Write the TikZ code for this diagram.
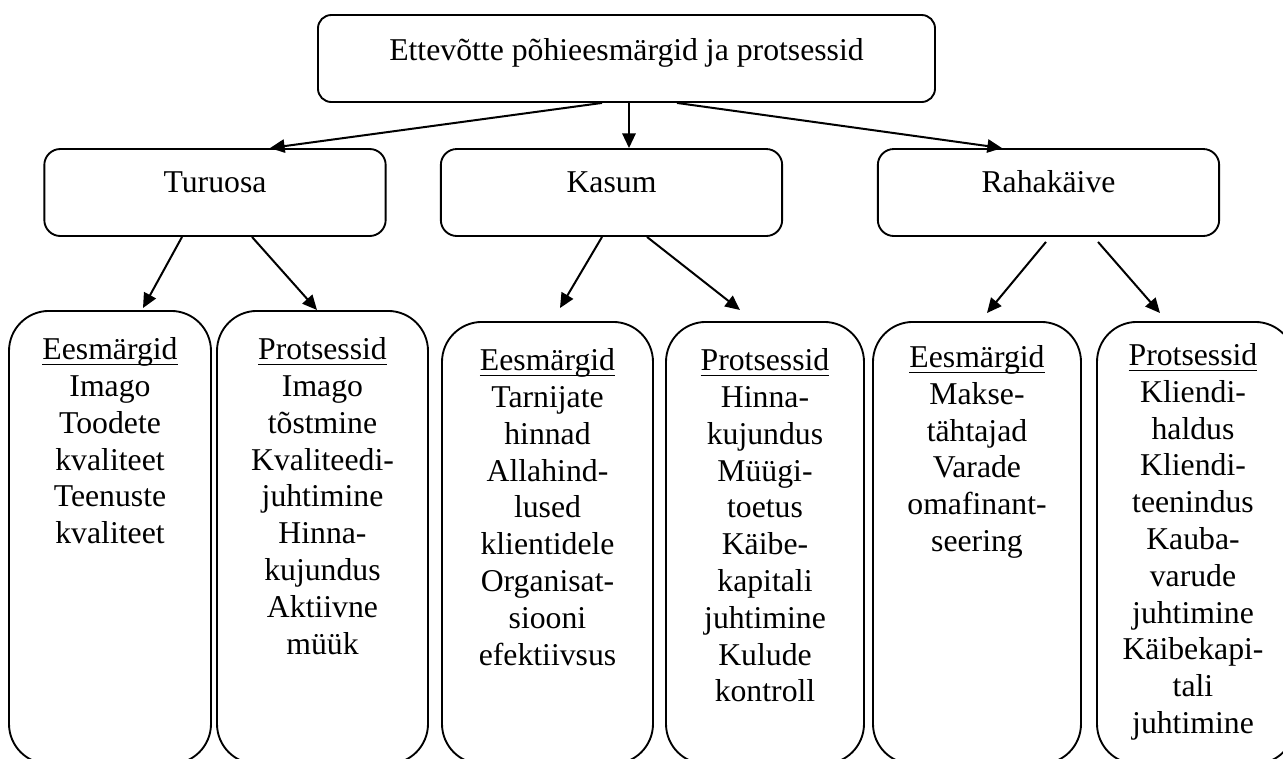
\documentclass[tikz,border=0pt]{standalone}
\usepackage{fontspec}
\setmainfont{Liberation Serif}
\usetikzlibrary{arrows.meta,positioning,calc}
\newcommand\undl[1]{\setbox0\hbox{#1}\rlap{\rule[-4.3pt]{\wd0}{1pt}}\box0}
\tikzset{
  headbox/.style={rectangle,draw,line width=1.4pt,inner xsep=0pt,inner ysep=0pt,font=\fontsize{23.8}{27.6}\selectfont},
  goalbox/.style={headbox,minimum width=462.75pt,text height=33.75pt,text depth=31.5pt,rounded corners=10pt},
  areabox/.style={headbox,minimum width=256pt,text height=32.25pt,text depth=33pt,rounded corners=12pt},
  listbox/.style={rectangle,draw,line width=1.4pt,rounded corners=30pt,anchor=north,inner sep=0pt},
  listtxt/.style={anchor=north,align=center,inner sep=0pt,font=\fontsize{23.8}{27.6}\selectfont},
  link/.style={draw,line width=1.5pt,-{Triangle[length=11pt,width=10pt]}},
}
\begin{document}
\begin{tikzpicture}[x=0.75pt,y=-0.75pt]
\useasboundingbox (0,0) rectangle (1283,758);
\clip (0,0) rectangle (1283,758);

% top
\node[goalbox] (goals) at (626.5,58.5) {Ettevõtte põhieesmärgid ja protsessid};

% middle row
\node[areabox] (turuosa) at (215,192.5) {Turuosa};
\node[areabox] (kasum) at (611.5,192.5) {Kasum};
\node[areabox] (rahakaive) at (1048.5,192.5) {Rahakäive};

\draw[link] ($(goals.south)+(-24.5,0)$) -- ($(turuosa.north)+(55,0)$);
\draw[link] ($(goals.south)+(2.5,0)$) -- ($(kasum.north)+(17.5,0)$);
\draw[link] ($(goals.south)+(50.5,0)$) -- ($(rahakaive.north)+(-46.5,0)$);

% bottom row
\node[listbox,minimum width=151.5pt,minimum height=339.75pt] (tureesm) at (110,310) {};
\node[listbox,minimum width=158.25pt,minimum height=339.75pt] (turprots) at (322.5,310) {};
\node[listbox,minimum width=158.25pt,minimum height=331.5pt] (kaseesm) at (547.5,321) {};
\node[listbox,minimum width=148.5pt,minimum height=331.5pt] (kasprots) at (765,321) {};
\node[listbox,minimum width=156pt,minimum height=331.5pt] (raheesm) at (977,321) {};
\node[listbox,minimum width=148.5pt,minimum height=331.5pt] (rahprots) at (1196,321) {};

\node[listtxt,below=20.5pt of tureesm.north] (tureesmtxt) {\undl{Eesmärgid}\\Imago\\Toodete\\kvaliteet\\Teenuste\\kvaliteet};
\node[listtxt,below=20.5pt of turprots.north] (turprotstxt) {\undl{Protsessid}\\Imago\\tõstmine\\Kvaliteedi-\\juhtimine\\Hinna-\\kujundus\\Aktiivne\\müük};
\node[listtxt,below=20.5pt of kaseesm.north] (kaseesmtxt) {\undl{Eesmärgid}\\Tarnijate\\hinnad\\Allahind-\\lused\\klientidele\\Organisat-\\siooni\\efektiivsus};
\node[listtxt,below=20.5pt of kasprots.north] (kasprotstxt) {\undl{Protsessid}\\Hinna-\\kujundus\\Müügi-\\toetus\\Käibe-\\kapitali\\juhtimine\\Kulude\\kontroll};
\node[listtxt,below=18.2pt of raheesm.north] (raheesmtxt) {\undl{Eesmärgid}\\Makse-\\tähtajad\\Varade\\omafinant-\\seering};
\node[listtxt,below=16.7pt of rahprots.north,xshift=-2.25pt] (rahprotstxt) {\undl{Protsessid}\\Kliendi-\\haldus\\Kliendi-\\teenindus\\Kauba-\\varude\\juhtimine\\Käibekapi-\\tali\\juhtimine};

\draw[link] ($(turuosa.south)+(-33,0)$) -- ($(tureesm.north)+(33,-2)$);
\draw[link] ($(turuosa.south)+(37,0)$) -- ($(turprots.north)+(-5.5,0)$);
\draw[link] ($(kasum.south)+(-9.5,0)$) -- ($(kaseesm.north)+(12.5,-13)$);
\draw[link] ($(kasum.south)+(35.5,0)$) -- ($(kasprots.north)+(-25,-11)$);
\draw[link] ($(rahakaive.south)+(-2.5,5)$) -- ($(raheesm.north)+(10,-8)$);
\draw[link] ($(rahakaive.south)+(49.5,5)$) -- ($(rahprots.north)+(-36,-8)$);
\end{tikzpicture}
\end{document}
